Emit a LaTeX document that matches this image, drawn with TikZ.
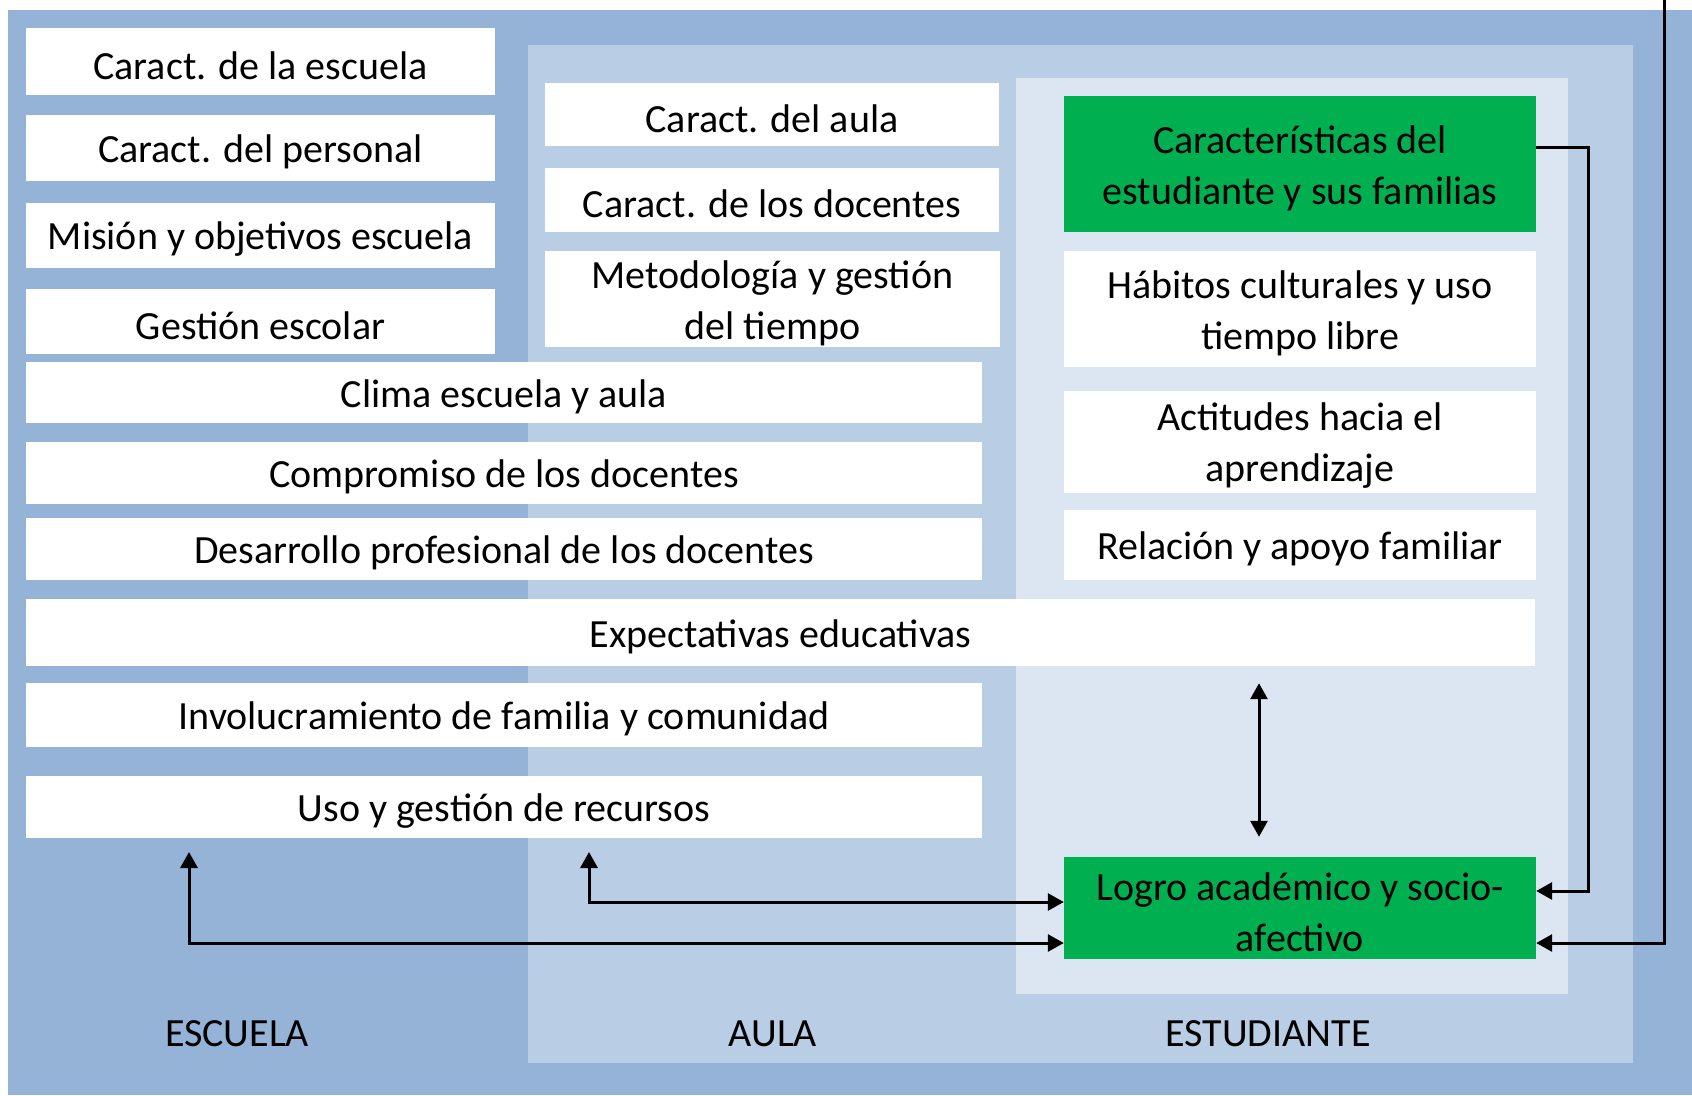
\documentclass[tikz,border=0pt]{standalone}
\usepackage{fontspec}
\setmainfont{Carlito}
\usetikzlibrary{arrows.meta}
\definecolor{outerblue}{HTML}{95B3D7}
\definecolor{aulablue}{HTML}{B9CDE5}
\definecolor{estblue}{HTML}{DCE6F2}
\definecolor{grn}{HTML}{00B050}
\tikzset{
 wbox/.style={fill=white, draw=none, inner sep=0pt},
 gbox/.style={wbox, fill=grn},
 txt/.style={inner sep=0pt, align=center, font=\fontsize{40}{51}\selectfont},
 tipa/.tip={Triangle[length=16pt,width=17pt]},
 conn/.style={line width=3pt},
 lbl/.style={font=\fontsize{40}{51}\selectfont, inner sep=0pt}
}
\newcommand\bx[7][wbox]{\node[#1,minimum width={(#5-#3)*1pt},minimum height={(#6-#4)*1pt}] (#2) at ({(#3+#5)/2},{(#4+#6)/2}) {};
\node[txt] (#2-t) at ([yshift=-4pt]#2.center) {#7};}
\begin{document}
\begin{tikzpicture}[x=1pt,y=-1pt]
\useasboundingbox (0,0) rectangle (1692,1095);
\fill[white] (0,0) rectangle (1692,1095);
\fill[outerblue] (8,10) rectangle (1692,1095);
\fill[aulablue] (528,45) rectangle (1633,1063);
\fill[estblue] (1016,78) rectangle (1568,994);
% ESCUELA
\bx{ce}{26}{28}{495}{95}{Caract. de la escuela}
\bx{cp}{26}{115}{495}{181}{Caract. del personal}
\bx{mo}{26}{203}{495}{268}{Misión y objetivos escuela}
\bx{ge}{26}{289}{495}{354}{Gestión escolar}
\bx{cl}{26}{362}{982}{423}{Clima escuela y aula}
\bx{co}{26}{442}{982}{504}{Compromiso de los docentes}
\bx{dp}{26}{518}{982}{580}{Desarrollo profesional de los docentes}
\bx{ex}{26}{599}{1535}{666}{Expectativas educativas}
\bx{in}{26}{683}{982}{747}{Involucramiento de familia y comunidad}
\bx{us}{26}{776}{982}{838}{Uso y gestión de recursos}
% AULA
\bx{ca}{545}{83}{999}{146}{Caract. del aula}
\bx{cd}{545}{168}{999}{232}{Caract. de los docentes}
\bx{me}{545}{251}{1000}{347}{Metodología y gestión\\del tiempo}
% ESTUDIANTE
\bx[gbox]{car}{1064}{96}{1536}{232}{Características del\\estudiante y sus familias}
\bx{ha}{1064}{251}{1536}{367}{Hábitos culturales y uso\\tiempo libre}
\bx{ac}{1064}{391}{1536}{493}{Actitudes hacia el\\aprendizaje}
\bx{re}{1064}{510}{1536}{580}{Relación y apoyo familiar}
\bx[gbox]{lo}{1064}{857}{1536}{959}{Logro académico y socio-\\afectivo}
% labels
\node[lbl] (l1) at (237,1034) {ESCUELA};
\node[lbl] (l2) at (773,1034) {AULA};
\node[lbl] (l3) at (1268,1034) {ESTUDIANTE};
% connectors
\coordinate (e1) at (189,852);
\coordinate (a1) at (589,852);
\coordinate (tp) at (1664,0);
\coordinate (v) at ([xshift=-41pt]lo.north);
\draw[conn,tipa-tipa] (e1) |- ([yshift=-35pt]lo.west);
\draw[conn,tipa-tipa] (a1) |- ([yshift=6pt]lo.west);
\draw[conn,-tipa] (tp) |- ([yshift=-35pt]lo.east);
\draw[conn,-tipa] ([yshift=17pt]car.east) -- ++(52,0) |- ([yshift=17pt]lo.east);
\draw[conn,tipa-tipa,shorten <=20pt,shorten >=17pt] (v) -- (v |- ex.south);
\end{tikzpicture}
\end{document}
